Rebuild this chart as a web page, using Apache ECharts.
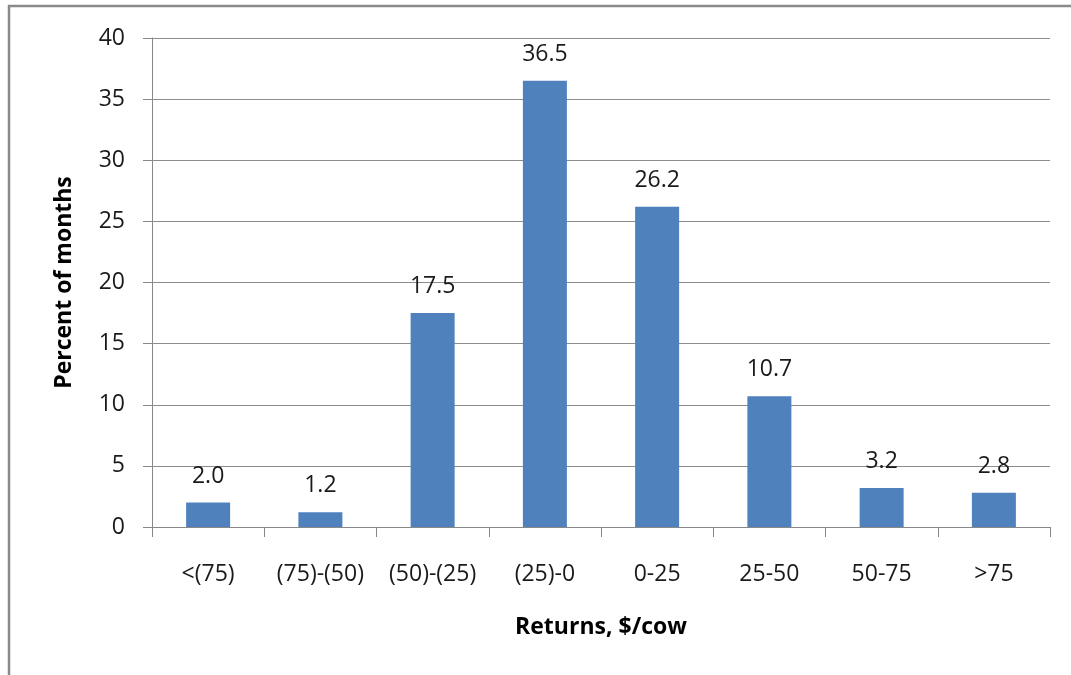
<!DOCTYPE html>
<html>
<head>
<meta charset="utf-8">
<script src="https://cdn.jsdelivr.net/npm/echarts@6/dist/echarts.min.js"></script>
<style>
  html, body { margin: 0; padding: 0; background: #fff; }
  #chart { width: 1071px; height: 675px; }
</style>
</head>
<body>
<div id="chart"></div>
<script>
// Distribution of monthly returns per cow
const categories = ['<(75)', '(75)-(50)', '(50)-(25)', '(25)-0', '0-25', '25-50', '50-75', '>75'];
const percentOfMonths = [2.0, 1.2, 17.5, 36.5, 26.2, 10.7, 3.2, 2.8];
const yTicks = { min: 0, max: 40, step: 5 };

const FONT = '"Open Sans", "Liberation Sans", sans-serif';
const chart = echarts.init(document.getElementById('chart'), null, { renderer: 'canvas' });

chart.setOption({
  backgroundColor: '#fff',
  animation: false,
  graphic: [{
    type: 'rect',
    shape: { x: 9, y: 6, width: 1100, height: 700 },
    style: { fill: 'none', stroke: '#8a8a8a', lineWidth: 2.5 },
    silent: true
  }],
  grid: { left: 152, right: 21, top: 38, bottom: 148 },
  xAxis: {
    type: 'category',
    data: categories,
    name: 'Returns, $/cow',
    nameLocation: 'middle',
    nameGap: 89,
    nameTextStyle: { fontFamily: FONT, fontSize: 23, fontWeight: 'bold', color: '#000' },
    axisLine: { lineStyle: { color: '#888', width: 1 } },
    axisTick: { show: true, length: 10, lineStyle: { color: '#888' } },
    axisLabel: { fontFamily: FONT, fontSize: 23, color: '#1a1a1a', margin: 36, interval: 0 }
  },
  yAxis: {
    type: 'value',
    min: yTicks.min,
    max: yTicks.max,
    interval: yTicks.step,
    name: 'Percent of months',
    nameLocation: 'middle',
    nameGap: 76,
    nameTextStyle: { fontFamily: FONT, fontSize: 23, fontWeight: 'bold', color: '#000' },
    axisLine: { show: true, lineStyle: { color: '#888', width: 1 } },
    axisTick: { show: true, length: 9, lineStyle: { color: '#888' } },
    axisLabel: { fontFamily: FONT, fontSize: 23, color: '#1a1a1a', margin: 27 },
    splitLine: { lineStyle: { color: '#8c8c8c', width: 1 } }
  },
  series: [{
    type: 'bar',
    data: percentOfMonths,
    barWidth: 44,
    itemStyle: { color: '#4F81BD' },
    label: {
      show: true,
      position: 'top',
      distance: 15,
      fontFamily: FONT,
      fontSize: 23,
      color: '#1a1a1a',
      formatter: p => p.value.toFixed(1)
    }
  }]
});
</script>
</body>
</html>
